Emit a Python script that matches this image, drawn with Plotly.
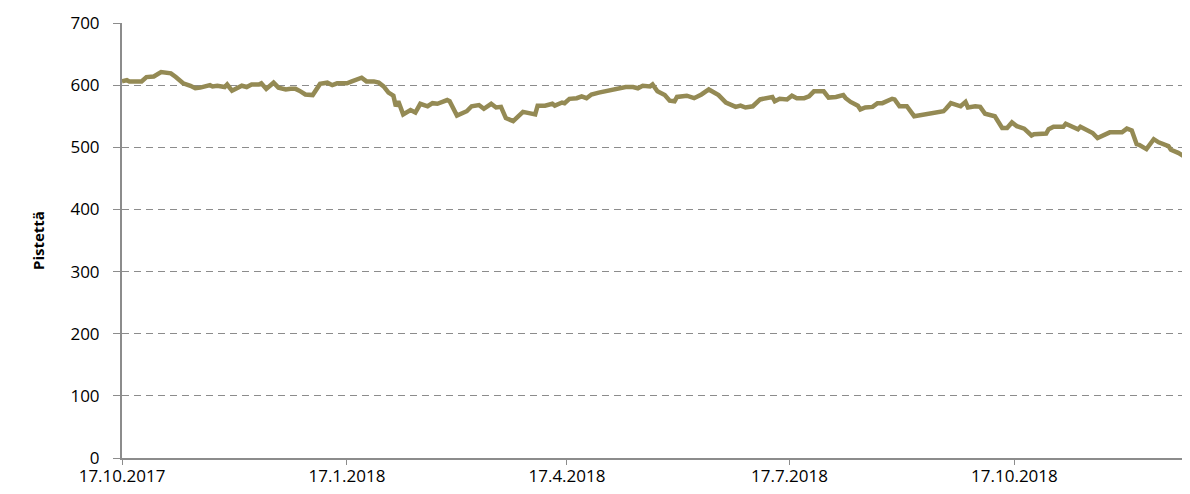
import datetime as dt
import plotly.graph_objects as go

# Data: days since 17.10.2017 and index points
start_date = "2017-10-17"
day_offsets = [0, 2, 3, 8, 10, 13, 16, 20, 22, 25, 28, 30, 32, 35, 36, 37, 39, 42, 43, 45, 47, 49, 51, 53, 56, 57,
               59, 60, 62, 64, 67, 69, 71, 73, 75, 78, 81, 84, 86, 88, 92, 94, 96, 98, 100, 103, 105, 107, 109, 111,
               112, 113, 115, 118, 120, 122, 125, 127, 129, 133, 134, 137, 141, 143, 146, 148, 151, 153, 155, 157,
               160, 164, 169, 170, 173, 176, 177, 180, 181, 183, 186, 188, 190, 192, 195, 198, 200, 203, 206, 209,
               211, 213, 216, 217, 219, 222, 224, 226, 227, 231, 234, 237, 240, 244, 246, 247, 251, 253, 255, 258,
               261, 266, 267, 269, 272, 274, 276, 279, 281, 283, 287, 289, 292, 295, 296, 298, 301, 302, 304, 307,
               309, 311, 315, 316, 318, 321, 324, 329, 333, 336, 337, 339, 343, 345, 346, 349, 351, 353, 357, 360,
               362, 364, 366, 369, 372, 373, 378, 379, 381, 385, 386, 388, 391, 392, 394, 397, 399, 401, 404, 409,
               411, 413, 415, 416, 419, 422, 424, 428, 429, 432, 435]
points = [606, 608, 606, 606, 613, 614, 621, 619, 613, 603, 599, 595, 596, 598, 600, 598, 599, 597, 601, 591, 595,
          599, 597, 601, 601, 603, 594, 598, 604, 596, 593, 594, 594, 590, 585, 584, 602, 604, 600, 603, 603, 606,
          610, 612, 606, 606, 604, 598, 588, 583, 566, 574, 553, 560, 556, 570, 566, 571, 570, 576, 574, 551, 558,
          566, 568, 562, 570, 564, 565, 547, 542, 557, 553, 567, 567, 570, 567, 572, 571, 578, 579, 582, 579, 585,
          588, 590, 593, 594, 597, 597, 595, 599, 598, 601, 590, 584, 575, 574, 581, 583, 579, 585, 593, 584, 577,
          572, 565, 567, 564, 566, 577, 581, 574, 578, 577, 583, 579, 579, 582, 590, 590, 580, 581, 584, 579, 573,
          567, 561, 564, 565, 571, 571, 578, 577, 566, 566, 550, 553, 557, 558, 562, 571, 566, 573, 564, 566, 565,
          554, 550, 531, 531, 540, 534, 530, 519, 521, 522, 529, 533, 533, 538, 534, 529, 533, 529, 523, 515, 519,
          524, 524, 530, 527, 505, 504, 497, 513, 508, 502, 496, 491, 484]
tick_dates = ["2017-10-17", "2018-01-17", "2018-04-17", "2018-07-17", "2018-10-17"]
tick_labels = ["17.10.2017", "17.1.2018", "17.4.2018", "17.7.2018", "17.10.2018"]
x_end = "2018-12-27"
y_ticks = [0, 100, 200, 300, 400, 500, 600, 700]

base = dt.date.fromisoformat(start_date)
dates = [base + dt.timedelta(days=d) for d in day_offsets]

fig = go.Figure()
fig.add_trace(go.Scatter(x=dates, y=points, mode="lines",
                         line=dict(color="#948A54", width=4.5), showlegend=False))

grid_col = "#8C8C8C"
fig.update_layout(
    width=1182, height=486,
    margin=dict(l=114, r=2, t=15, b=36),
    paper_bgcolor="white", plot_bgcolor="white",
    font=dict(family="Open Sans, Liberation Sans, sans-serif", size=17, color="#000000"),
)
fig.update_xaxes(
    range=[start_date, x_end], tickvals=tick_dates, ticktext=tick_labels,
    showgrid=False, showline=True, linecolor=grid_col, linewidth=2,
    ticks="outside", ticklen=5, tickcolor=grid_col, tickwidth=1,
    ticklabelstandoff=-3,
    zeroline=False, fixedrange=True, automargin=False,
)
fig.update_yaxes(
    range=[0, 700], tickvals=y_ticks,
    showgrid=True, gridcolor=grid_col, gridwidth=1.2, griddash="7px,5px",
    showline=True, linecolor=grid_col, linewidth=2,
    ticks="outside", ticklen=7, tickcolor=grid_col, tickwidth=1,
    ticklabelstandoff=10, zeroline=False, automargin=False,
    title=dict(text="<b>Pistettä</b>", font=dict(size=15), standoff=22),
)
fig.write_html("out.html")
